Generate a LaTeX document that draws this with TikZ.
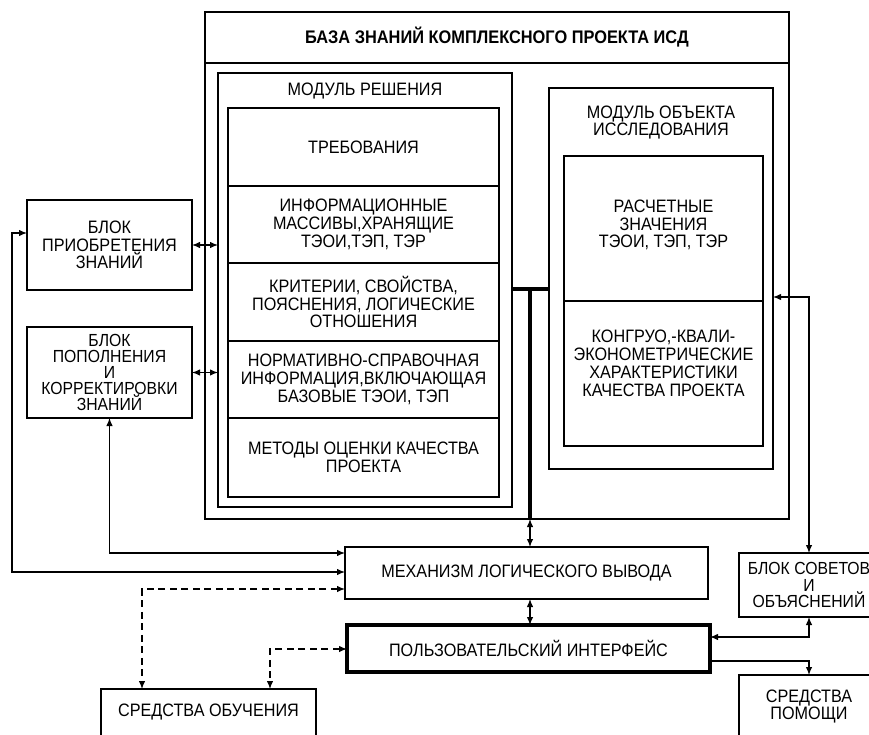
\documentclass[tikz,border=0pt]{standalone}
\usepackage{fontspec}
\setmainfont{Liberation Sans}[FakeStretch=0.9]
\usetikzlibrary{arrows.meta}
\begin{document}
\begin{tikzpicture}[x=1pt,y=-1pt,
  every node/.style={inner sep=0pt, outer sep=0pt, align=center,
    font=\fontsize{18}{17.8}\selectfont},
  tight/.style={font=\fontsize{17.5}{16}\selectfont},
  thinbox/.style={draw, line width=1.1pt, anchor=north west},
  heavybox/.style={draw, line width=2.6pt, anchor=north west},
  conn/.style={line width=1.2pt},
  tip/.tip={Latex[length=8pt,width=6.5pt]},
  dbl/.style={conn, tip-tip},
  one/.style={conn, -tip},
  bus/.style={line width=4pt},
  dashconn/.style={dash pattern=on 7pt off 4.5pt},
]
\useasboundingbox (0,0) rectangle (869,735);
\clip (0,0) rectangle (869,735);

% knowledge base frame and its heading
\node[thinbox, minimum width=584pt, minimum height=507pt] (kb) at (205,12) {};
\node[heavybox, fill=white, minimum width=584pt, minimum height=51pt,
      font=\fontsize{18.2}{18}\selectfont\bfseries] (kbtitle) at (205,12)
      {БАЗА ЗНАНИЙ КОМПЛЕКСНОГО ПРОЕКТА ИСД};

% solution module
\node[heavybox, line width=2.8pt, minimum width=294pt, minimum height=434pt] (modsol) at (218,73) {};
\node (modsoltitle) at (365,91) {МОДУЛЬ РЕШЕНИЯ};
\node[thinbox, minimum width=271pt, minimum height=78pt] (req) at (228,108) {ТРЕБОВАНИЯ};
\node[thinbox, minimum width=271pt, minimum height=77pt] (info) at (228,186)
  {ИНФОРМАЦИОННЫЕ\\МАССИВЫ,ХРАНЯЩИЕ\\ТЭОИ,ТЭП, ТЭР};
\node[thinbox, minimum width=271pt, minimum height=78pt] (crit) at (228,263)
  {КРИТЕРИИ, СВОЙСТВА,\\ПОЯСНЕНИЯ, ЛОГИЧЕСКИЕ\\ОТНОШЕНИЯ};
\node[thinbox, minimum width=271pt, minimum height=77pt] (norm) at (228,341)
  {НОРМАТИВНО-СПРАВОЧНАЯ\\ИНФОРМАЦИЯ,ВКЛЮЧАЮЩАЯ\\БАЗОВЫЕ ТЭОИ, ТЭП};
\node[thinbox, minimum width=271pt, minimum height=79pt] (meth) at (228,418)
  {МЕТОДЫ ОЦЕНКИ КАЧЕСТВА\\ПРОЕКТА};

% research object module
\node[heavybox, line width=2.8pt, minimum width=224pt, minimum height=381pt] (modobj) at (549,88) {};
\node (modobjtitle) at (661,122.5) {МОДУЛЬ ОБЪЕКТА\\ИССЛЕДОВАНИЯ};
\node[thinbox, minimum width=199pt, minimum height=145pt] (calc) at (564,156) {};
\node (calctext) at (663.5,225) {РАСЧЕТНЫЕ\\ЗНАЧЕНИЯ\\ТЭОИ, ТЭП, ТЭР};
\node[thinbox, minimum width=199pt, minimum height=145pt] (qual) at (564,301) {};
\node (qualtext) at (663.5,363.5)
  {КОНГРУО,-КВАЛИ-\\ЭКОНОМЕТРИЧЕСКИЕ\\ХАРАКТЕРИСТИКИ\\КАЧЕСТВА ПРОЕКТА};

% knowledge blocks on the left
\node[heavybox, minimum width=165pt, minimum height=90pt] (priob) at (27,200)
  {БЛОК\\ПРИОБРЕТЕНИЯ\\ЗНАНИЙ};
\node[heavybox, tight, minimum width=165pt, minimum height=91pt] (popol) at (27,327)
  {БЛОК\\ПОПОЛНЕНИЯ\\И\\КОРРЕКТИРОВКИ\\ЗНАНИЙ};

% inference engine and user interface
\node[draw, line width=1.8pt, anchor=north west, minimum width=363pt, minimum height=52pt] (mech) at (345,547)
  {МЕХАНИЗМ ЛОГИЧЕСКОГО ВЫВОДА};
\node[draw, line width=4.5pt, anchor=north west, minimum width=363pt, minimum height=47pt] (ui) at (347,625)
  {ПОЛЬЗОВАТЕЛЬСКИЙ ИНТЕРФЕЙС};

% advice, help and training blocks
\node[heavybox, font=\fontsize{17.5}{16.5}\selectfont, minimum width=140pt, minimum height=64pt] (sovet) at (739,553)
  {БЛОК СОВЕТОВ\\И\\ОБЪЯСНЕНИЙ};
\node[heavybox, minimum width=140pt, minimum height=95pt] (pomosh) at (739,675) {};
\node (pomoshtext) at (809,706.5) {СРЕДСТВА\\ПОМОЩИ};
\node[heavybox, minimum width=215pt, minimum height=95pt] (obuch) at (101,689) {};
\node (obuchtext) at (208.5,712) {СРЕДСТВА ОБУЧЕНИЯ};

% routing levels
\coordinate (busrow) at (0,289);
\coordinate (tapx) at (530,0);
\coordinate (fbrow) at (0,297);
\coordinate (loopA) at (0,553);
\coordinate (loopB) at (0,572);
\coordinate (leftrail) at (12,233);
\coordinate (trainA) at (0,589);
\coordinate (trainB) at (0,649);
\coordinate (advrow) at (0,637);
\coordinate (helprow) at (0,661);

% heavy bus between the modules
\draw[bus] (modsol.east |- busrow) -- (modobj.west |- busrow);
\draw[bus] (tapx |- busrow) -- (tapx |- kb.south);
\draw[dbl] (tapx |- kb.south) -- (tapx |- mech.north);
\draw[dbl] (tapx |- mech.south) -- (tapx |- ui.north);

% right side links
\draw[dbl] (modobj.east |- fbrow) -| (sovet.north);
\draw[dbl] (ui.east |- advrow) -| (sovet.south);
\draw[one] (ui.east |- helprow) -| (pomosh.north);

% left side links
\draw[dbl] (priob.east) -- (priob.east -| modsol.west);
\draw[dbl] (popol.east) -- (popol.east -| modsol.west);
\draw[dbl] (mech.west |- loopB) -| (leftrail) -- (priob.west |- leftrail);
\draw[dbl] (mech.west |- loopA) -| (popol.south);

% training links
\draw[dbl, dashconn] (mech.west |- trainA) -| ([xshift=-66.5pt]obuch.north);
\draw[dbl, dashconn] (ui.west |- trainB) -| ([xshift=61.5pt]obuch.north);
\end{tikzpicture}
\end{document}
